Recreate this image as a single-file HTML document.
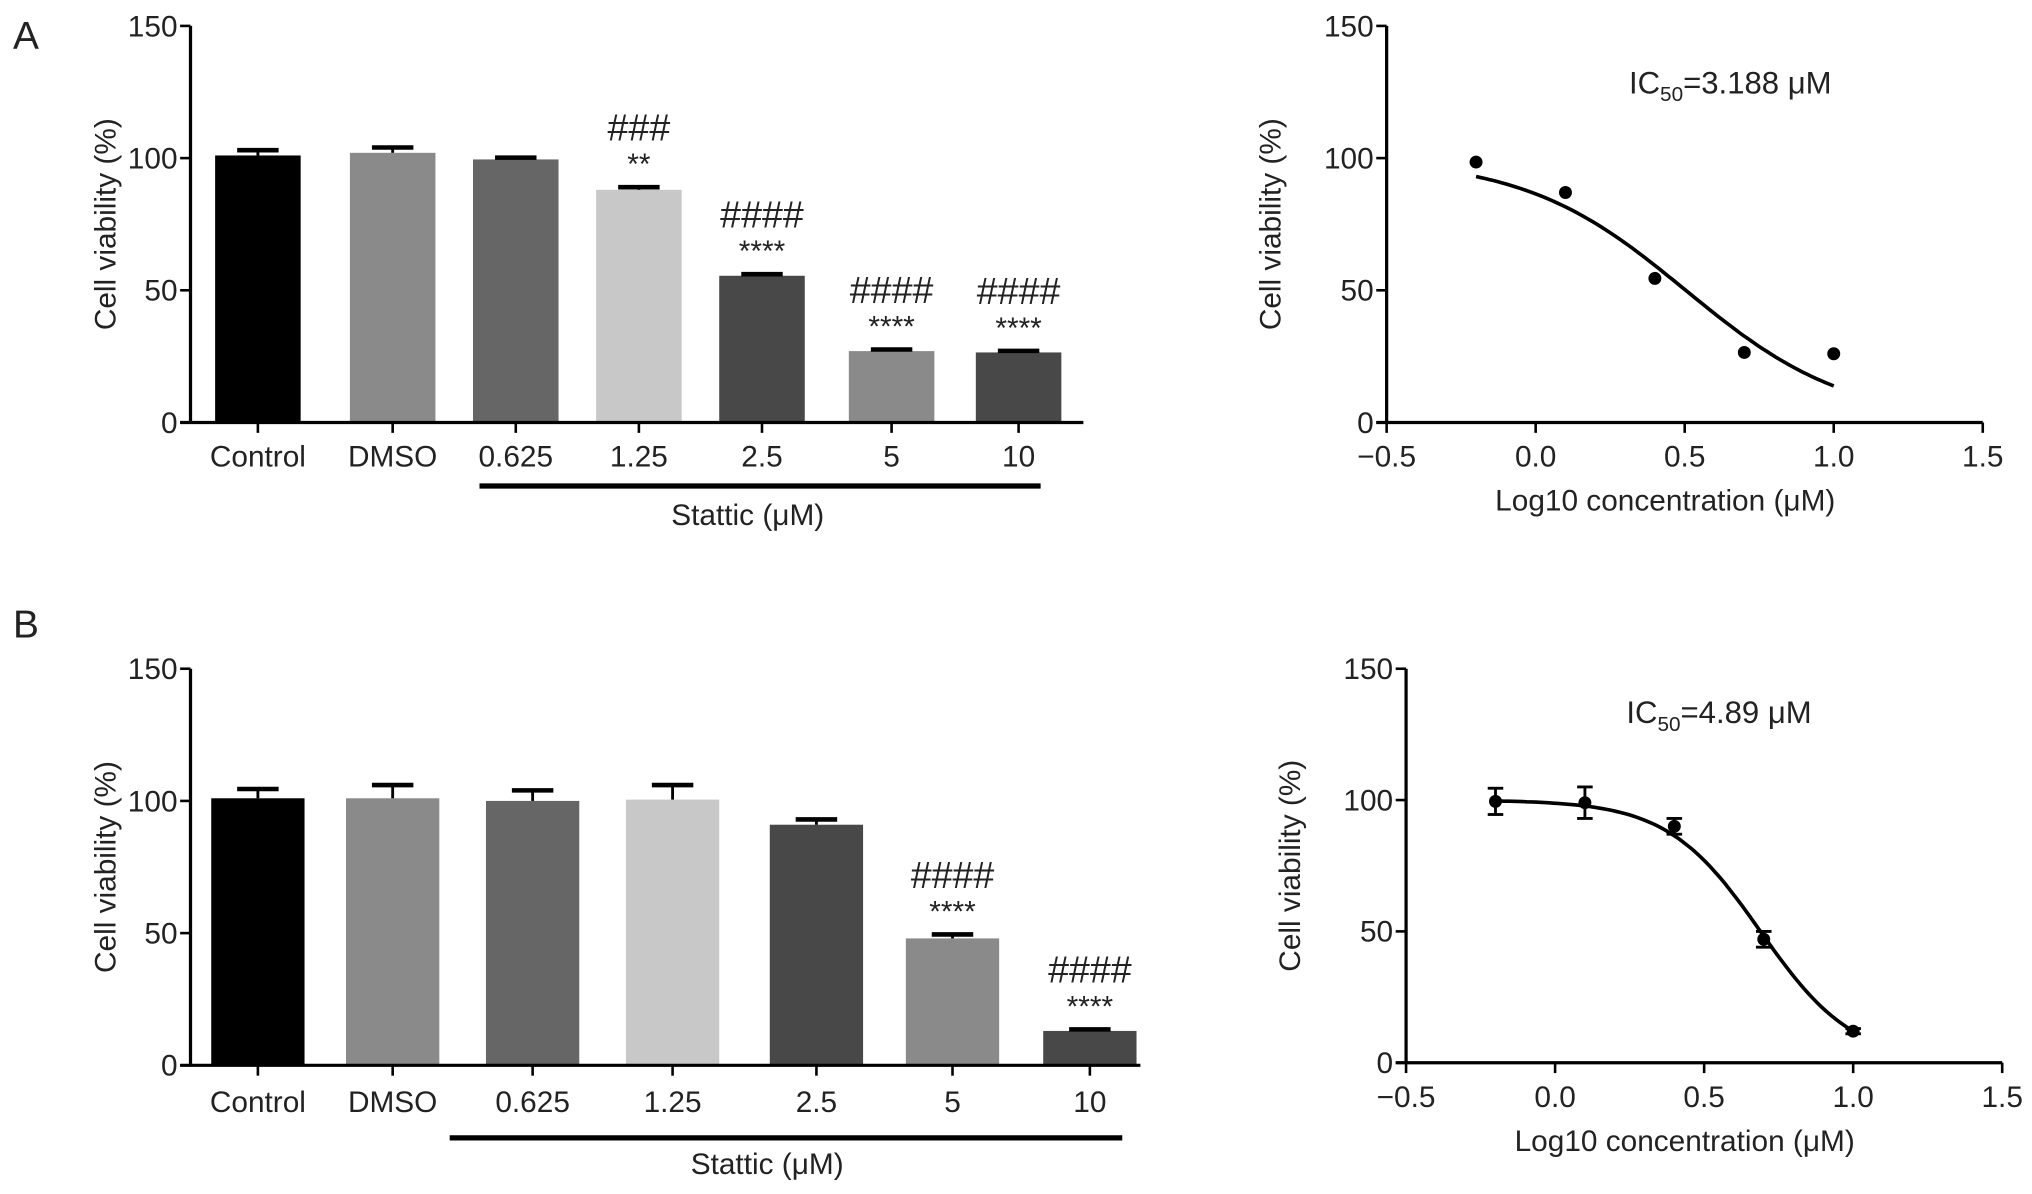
<!DOCTYPE html>
<html><head><meta charset="utf-8"><style>
html,body{margin:0;padding:0;background:#fff;}
svg{display:block;}
text{font-family:"Liberation Sans",Arial,sans-serif;fill:#222;}
</style></head>
<body>
<svg id="fig" width="2032" height="1194" viewBox="0 0 1568 921.3" preserveAspectRatio="none" xmlns="http://www.w3.org/2000/svg"></svg>
<script>
// ---- data ----
const barCats = ["Control","DMSO","0.625","1.25","2.5","5","10"];
const barColors = ["#000000","#8a8a8a","#666666","#c8c8c8","#484848","#8a8a8a","#484848"];
const barA = [101, 102, 99.5, 88, 55.5, 27, 26.5];
const errA = [2, 2, 0.7, 1, 0.6, 0.6, 0.6];
const starA = ["", "", "", "**", "****", "****", "****"];
const hashA = ["", "", "", "###", "####", "####", "####"];
const barB = [101, 101, 100, 100.5, 91, 48, 13];
const errB = [3.5, 5, 4, 5.5, 2, 1.5, 0.6];
const starB = ["", "", "", "", "", "****", "****"];
const hashB = ["", "", "", "", "", "####", "####"];
const yTicks = [0, 50, 100, 150];
const xTicks = [-0.5, 0.0, 0.5, 1.0, 1.5];
const xTickLabels = ["\u22120.5","0.0","0.5","1.0","1.5"];
const logX = [-0.2, 0.1, 0.4, 0.7, 1.0];
const ptsA = [98.5, 87, 54.5, 26.5, 26];
const ptsB = [99.5, 99, 90, 47, 12];
const ptErrB = [5, 6, 3, 3, 1];
const fitA = [100, 0, 0.5035, 1.6];   // top, bottom, logIC50, hill
const fitB = [100, 0, 0.689, 2.78];

const NS = "http://www.w3.org/2000/svg";
const svg = document.getElementById('fig');
function el(tag, attrs, parent){const e=document.createElementNS(NS,tag);for(const k in attrs)e.setAttribute(k,attrs[k]);(parent||svg).appendChild(e);return e;}
function txt(s,x,y,size,anchor,parent){const t=el('text',{x:x,y:y,'font-size':size,'text-anchor':anchor||'middle'},parent);t.textContent=s;return t;}

function barChart(name, ax, y0, y150, centers, bw, axEnd, vals, errs, stars, hashes, labY, lineX1, lineX2, lineY, statY, statX){
  const g=el('g',{});
  
  
  const Y=v=>y0-(v/150)*(y0-y150);
  vals.forEach((v,i)=>{
    const r=el('rect',{x:centers[i]-bw/2,y:Y(v),width:bw,height:Y(0)-Y(v),fill:barColors[i]},g);
    
    
    const e=el('g',{stroke:'#000','stroke-width':2.2},g);
    
    
    el('line',{x1:centers[i],x2:centers[i],y1:Y(v),y2:Y(v+errs[i])},e);
    el('line',{x1:centers[i]-16,x2:centers[i]+16,y1:Y(v+errs[i]),y2:Y(v+errs[i]),'stroke-width':3.5},e);
    if(stars[i]){const t=txt(stars[i],centers[i],Y(v+errs[i])-10,23,'middle',g);}
    if(hashes[i]){const t=txt(hashes[i],centers[i],Y(v+errs[i])-36,29,'middle',g);}
    const l=txt(barCats[i],centers[i],labY,23,'middle',g);
    
    
    el('line',{x1:centers[i],x2:centers[i],y1:y0,y2:y0+8,stroke:'#000','stroke-width':2},g);
  });
  el('line',{x1:ax,x2:ax,y1:y150,y2:y0,stroke:'#000','stroke-width':2.5},g);
  el('line',{x1:ax-8,x2:axEnd,y1:y0,y2:y0,stroke:'#000','stroke-width':2.5},g);
  yTicks.forEach(t=>{
    el('line',{x1:ax-8,x2:ax,y1:Y(t),y2:Y(t),stroke:'#000','stroke-width':2},g);
    const l=txt(String(t),ax-10,Y(t)+8,23,'end',g);
    
    
  });
  const yt=txt('Cell viability (%)',0,0,23,'middle',g);
  yt.setAttribute('transform','translate('+(ax-58)+','+((y0+y150)/2)+') rotate(-90)');
  
  
  el('line',{x1:lineX1,x2:lineX2,y1:lineY,y2:lineY,stroke:'#000','stroke-width':4},g);
  const st=txt('Stattic (\u03bcM)',statX,statY,23,'middle',g);
  
  
}

function curveChart(name, ax, axEnd, y0, y150, pts, perr, fit, ic50, icX, icY){
  const g=el('g',{});
  
  
  const X=v=>ax+(v+0.5)/2*(axEnd-ax);
  const Y=v=>y0-(v/150)*(y0-y150);
  el('line',{x1:ax,x2:ax,y1:y150,y2:y0,stroke:'#000','stroke-width':2.5},g);
  el('line',{x1:ax-8,x2:axEnd,y1:y0,y2:y0,stroke:'#000','stroke-width':2.5},g);
  yTicks.forEach(t=>{
    el('line',{x1:ax-8,x2:ax,y1:Y(t),y2:Y(t),stroke:'#000','stroke-width':2},g);
    const l=txt(String(t),ax-10,Y(t)+8,23,'end',g);
    
    
  });
  xTicks.forEach((t,i)=>{
    el('line',{x1:X(t),x2:X(t),y1:y0,y2:y0+8,stroke:'#000','stroke-width':2},g);
    const l=txt(xTickLabels[i],X(t),y0+34,23,'middle',g);
    
    
  });
  const f=x=>fit[1]+(fit[0]-fit[1])/(1+Math.pow(10,(x-fit[2])*fit[3]));
  let d='';
  const x1=logX[0], x2=logX[logX.length-1];
  for(let i=0;i<=80;i++){const x=x1+(x2-x1)*i/80;d+=(i?'L':'M')+X(x).toFixed(1)+' '+Y(f(x)).toFixed(1);}
  const p=el('path',{d:d,fill:'none',stroke:'#000','stroke-width':2.8},g);
  
  
  pts.forEach((v,i)=>{
    if(perr){
      const e=perr[i];
      el('line',{x1:X(logX[i]),x2:X(logX[i]),y1:Y(v-e),y2:Y(v+e),stroke:'#000','stroke-width':2.2},g);
      el('line',{x1:X(logX[i])-6,x2:X(logX[i])+6,y1:Y(v-e),y2:Y(v-e),stroke:'#000','stroke-width':2.2},g);
      el('line',{x1:X(logX[i])-6,x2:X(logX[i])+6,y1:Y(v+e),y2:Y(v+e),stroke:'#000','stroke-width':2.2},g);
    }
    const c=el('circle',{cx:X(logX[i]),cy:Y(v),r:5,fill:'#000'},g);
    
    
  });
  const xt=txt('Log10 concentration (\u03bcM)',(ax+axEnd)/2-15,y0+68,23,'middle',g);
  
  
  const yt=txt('Cell viability (%)',0,0,23,'middle',g);
  yt.setAttribute('transform','translate('+(ax-82)+','+((y0+y150)/2)+') rotate(-90)');
  
  
  const t=el('text',{x:icX,y:icY,'font-size':24,'text-anchor':'start'},g);
  
  
  const a=el('tspan',{},t);a.textContent='IC';
  const b=el('tspan',{'font-size':16,dy:6},t);b.textContent='50';
  const c=el('tspan',{dy:-6},t);c.textContent='='+ic50+' \u03bcM';
}

const la=txt('A',10,38,30,'start');


const lb=txt('B',10,492,30,'start');



barChart('bar-chart-a',147,326,20,[199,303,398,493,588,688,786],66,836,barA,errA,starA,hashA,360,370,803,375,405,577);
curveChart('dose-curve-a',1070,1530,326,20,ptsA,null,fitA,'3.188',1257,72);
barChart('bar-chart-b',147,822,516,[199,303,411,519,630,735,841],72,880,barB,errB,starB,hashB,858,347,866,878,906,592);
curveChart('dose-curve-b',1085,1545,820,516,ptsB,ptErrB,fitB,'4.89',1255,558);
</script>
</body></html>
